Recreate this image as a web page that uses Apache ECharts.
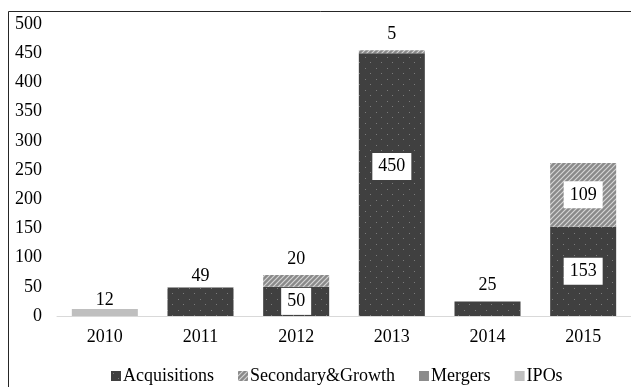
<!DOCTYPE html>
<html>
<head>
<meta charset="utf-8">
<script src="https://cdn.jsdelivr.net/npm/echarts@6/dist/echarts.min.js"></script>
<style>
  html, body { margin: 0; padding: 0; background: #fff; }
  #chart { width: 631px; height: 387px; }
</style>
</head>
<body>
<div id="chart"></div>
<script>
// Deal counts per year, by deal type
const years = ['2010', '2011', '2012', '2013', '2014', '2015'];
const acquisitions = [null, 49, 50, 450, 25, 153];
const secondaryGrowth = [null, null, 20, 5, null, 109];
const mergers = [null, null, null, null, null, null];
const ipos = [12, null, null, null, null, null];
const yMin = 0, yMax = 500, yStep = 50;

const FONT = 'Liberation Serif';
const FS = 18;

// Dotted fill: dark ground with small light dots
function dotPattern() {
  const c = document.createElement('canvas');
  c.width = 11; c.height = 11;
  const g = c.getContext('2d');
  g.fillStyle = '#404040';
  g.fillRect(0, 0, 11, 11);
  g.fillStyle = '#7c7c7c';
  g.fillRect(2, 2, 1, 1);
  g.fillRect(7, 7, 1, 1);
  return c;
}

// Diagonal hatch fill
function hatchPattern() {
  const s = 5;
  const c = document.createElement('canvas');
  c.width = s; c.height = s;
  const g = c.getContext('2d');
  g.fillStyle = '#8a8a8a';
  g.fillRect(0, 0, s, s);
  g.strokeStyle = '#d6d6d6';
  g.lineWidth = 1.2;
  g.beginPath();
  g.moveTo(-1, s + 1); g.lineTo(s + 1, -1);
  g.moveTo(-1, 1); g.lineTo(1, -1);
  g.moveTo(s - 1, s + 1); g.lineTo(s + 1, s - 1);
  g.stroke();
  return c;
}

// Small label nudges for individual points
const nudges = {
  'Acquisitions|2013': { offset: [0, -18] },
  'IPOs|2010': { distance: 0 },
  'Acquisitions|2011': { distance: 2 }
};

function labelFor(name, v, i) {
  const big = v >= 50;
  const base = big
    ? { show: true, position: 'inside', backgroundColor: '#fff', padding: [5, 6, 4, 6], color: '#000' }
    : { show: true, position: 'top', distance: 7, color: '#000' };
  return Object.assign(base, { fontFamily: FONT, fontSize: FS }, nudges[name + '|' + years[i]] || {});
}

function build(name, values, color) {
  return {
    name: name,
    type: 'bar',
    stack: 'total',
    barWidth: 66,
    itemStyle: { color: color },
    data: values.map((v, i) => v == null ? null : { value: v, label: labelFor(name, v, i) })
  };
}

const chart = echarts.init(document.getElementById('chart'), null, { renderer: 'canvas' });
chart.setOption({
  animation: false,
  backgroundColor: '#fff',
  textStyle: { fontFamily: FONT },
  grid: { left: 57, right: -14, top: 24, bottom: 71, containLabel: false },
  xAxis: {
    type: 'category',
    data: years,
    axisLine: { lineStyle: { color: '#d9d9d9', width: 1 } },
    axisTick: { show: false },
    axisLabel: { color: '#000', fontFamily: FONT, fontSize: FS, margin: 12 }
  },
  yAxis: {
    type: 'value',
    min: yMin, max: yMax, interval: yStep,
    splitLine: { show: false },
    axisLine: { show: false },
    axisTick: { show: false },
    axisLabel: { color: '#000', fontFamily: FONT, fontSize: FS, margin: 15 }
  },
  legend: {
    left: 106,
    top: 362,
    itemWidth: 10,
    itemHeight: 10,
    itemGap: 24,
    icon: 'rect',
    textStyle: { color: '#000', fontFamily: FONT, fontSize: FS, padding: [0, 0, 0, -3] },
    data: ['Acquisitions', 'Secondary&Growth', 'Mergers', 'IPOs']
  },
  graphic: [{
    type: 'rect',
    shape: { x: 8.5, y: 11.5, width: 700, height: 500 },
    style: { fill: 'none', stroke: '#262626', lineWidth: 1 },
    silent: true,
    z: 100
  }],
  series: [
    build('Acquisitions', acquisitions, { image: dotPattern(), repeat: 'repeat' }),
    build('Secondary&Growth', secondaryGrowth, { image: hatchPattern(), repeat: 'repeat' }),
    build('Mergers', mergers, '#8c8c8c'),
    build('IPOs', ipos, '#bfbfbf')
  ]
});
</script>
</body>
</html>
